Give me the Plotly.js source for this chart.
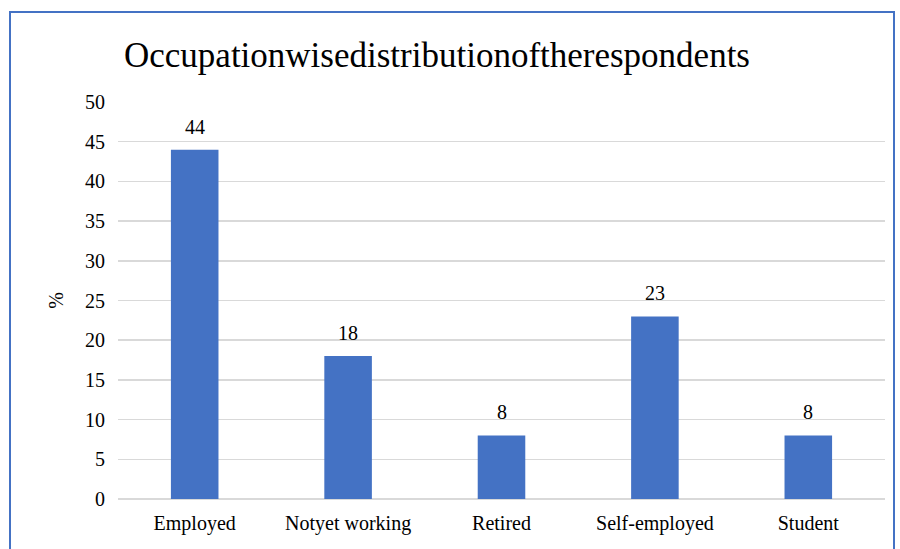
<!DOCTYPE html>
<html>
<head>
<meta charset="utf-8">
<script src="https://cdn.plot.ly/plotly-3.0.1.min.js"></script>
<style>
html,body{margin:0;padding:0;background:#fff;}
#wrap{position:relative;width:900px;height:549px;}
#chart{width:900px;height:549px;}
#frame{position:absolute;left:9px;top:11px;width:882px;height:560px;border:2px solid #4472C4;border-bottom:none;pointer-events:none;}
</style>
</head>
<body>
<div id="wrap">
<div id="chart"></div>
<div id="frame"></div>
</div>
<script>
const categories = ["Employed", "Notyet working", "Retired", "Self-employed", "Student"];
const percentages = [44, 18, 8, 23, 8];
const yTicks = [0, 5, 10, 15, 20, 25, 30, 35, 40, 45, 50];
const titleText = "Occupationwisedistributionoftherespondents";
const yTitle = "%";

const serif = "Liberation Serif, Times New Roman, serif";

const labels = categories.map(function(c, i){
  return {x: c, y: percentages[i], xref: "x", yref: "y", text: String(percentages[i]),
    showarrow: false, yanchor: "bottom", yshift: 10,
    font: {family: serif, size: 20, color: "#000"}};
});

Plotly.newPlot("chart", [{
  type: "bar",
  x: categories,
  y: percentages,
  marker: {color: "#4472C4"},
  hoverinfo: "none"
}], {
  width: 900, height: 549,
  margin: {l: 118, r: 15, t: 102, b: 50},
  paper_bgcolor: "#fff", plot_bgcolor: "#fff",
  bargap: 0.69,
  showlegend: false,
  annotations: labels,
  font: {family: serif, size: 20, color: "#000"},
  title: {text: titleText, font: {family: serif, size: 35, color: "#000"}, x: 437/900, xref: "container", xanchor: "center", y: 1-55/549, yref: "container", yanchor: "middle"},
  xaxis: {type: "category", showgrid: false, showline: false, zeroline: false, ticks: "", tickfont: {family: serif, size: 20, color: "#000"}, ticklabelstandoff: 10},
  yaxis: {range: [0, 50], tickvals: yTicks, showgrid: true, gridcolor: "#d9d9d9", gridwidth: 1.5, zeroline: true, zerolinecolor: "#d9d9d9", zerolinewidth: 1.5, showline: false, ticks: "", ticklabelstandoff: 12, tickfont: {family: serif, size: 20, color: "#000"},
    title: {text: yTitle, font: {family: serif, size: 20, color: "#000"}, standoff: 16}}
}, {displayModeBar: false, staticPlot: true});
</script>
</body>
</html>
